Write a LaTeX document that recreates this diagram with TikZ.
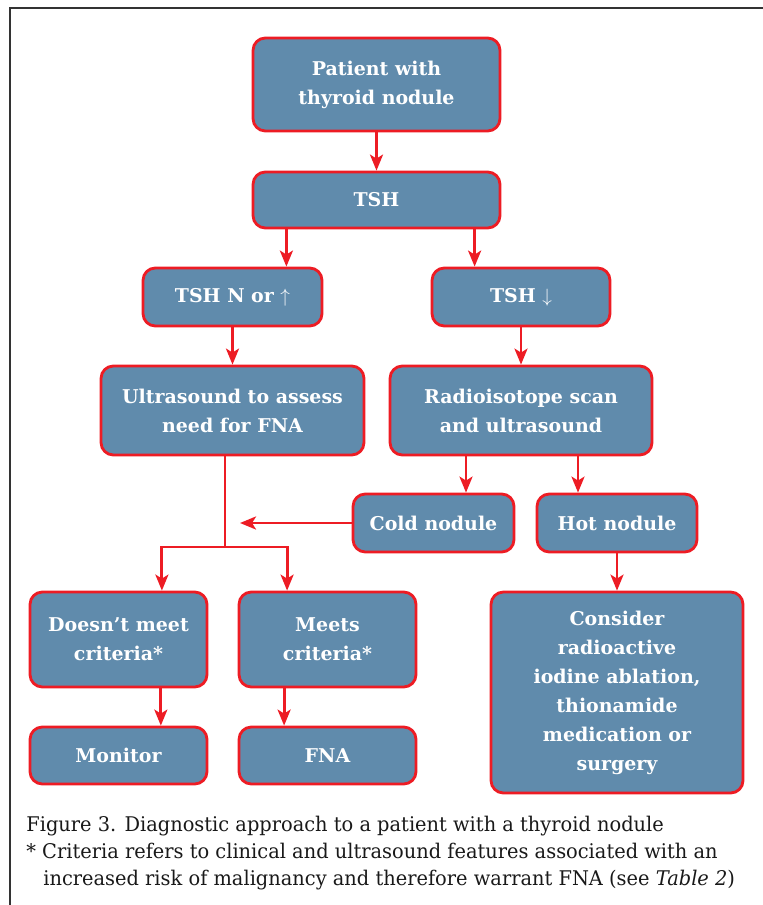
\documentclass[tikz,border=0pt]{standalone}
\usepackage{fontspec}
\setmainfont{DejaVu Serif}
\newfontfamily\capfont[FakeStretch=0.96]{DejaVu Serif}
\usetikzlibrary{arrows.meta,positioning}
\definecolor{boxblue}{HTML}{608BAC}
\definecolor{boxred}{HTML}{ED1C24}
\definecolor{framegray}{HTML}{333333}
\tikzset{
  flowbox/.style={rectangle, rounded corners=7pt, draw=boxred, line width=1.6pt, fill=boxblue,
                  text=white, align=center, font=\bfseries\fontsize{10.8}{16.5}\selectfont,
                  inner sep=2pt},
  arr/.style={-{Stealth[length=3.2mm,width=2.6mm,inset=0.8mm]}, line width=1.6pt, draw=boxred},
  line/.style={line width=1.6pt, draw=boxred},
  captxt/.style={anchor=base west, inner sep=0pt, text=black!90,
                 font=\capfont\fontsize{11.5}{15}\selectfont},
}
\begin{document}
\begin{tikzpicture}[x=0.02cm, y=-0.02cm]
    \useasboundingbox (0,0) rectangle (763,905);
    % frame
    \draw[framegray, line width=1.1pt] (763,8) -- (10,8) -- (10,905);
    % boxes
    \node[flowbox, minimum width=4.94cm, minimum height=1.86cm] (pat) at (376.5,84.5)
      {Patient with\\thyroid nodule};
    \node[flowbox, minimum width=4.94cm, minimum height=1.12cm] (tsh) at (376.5,200) {TSH};
    \node[flowbox, minimum width=3.58cm, minimum height=1.16cm] (tshn) at (232.5,297)
      {TSH N or $\uparrow$};
    \node[flowbox, minimum width=3.56cm, minimum height=1.16cm] (tshd) at (521,297)
      {TSH $\downarrow$};
    \node[flowbox, minimum width=5.26cm, minimum height=1.78cm] (us) at (232.5,410.5)
      {Ultrasound to assess\\need for FNA};
    \node[flowbox, minimum width=5.24cm, minimum height=1.78cm] (scan) at (521,410.5)
      {Radioisotope scan\\and ultrasound};
    \node[flowbox, minimum width=3.22cm, minimum height=1.16cm] (cold) at (433.5,523) {Cold nodule};
    \node[flowbox, minimum width=3.2cm, minimum height=1.16cm] (hot) at (617,523) {Hot nodule};
    \node[flowbox, minimum width=3.54cm, minimum height=1.9cm] (nomeet) at (118.5,639.5)
      {Doesn't meet\\criteria*};
    \node[flowbox, minimum width=3.54cm, minimum height=1.9cm] (meet) at (327.5,639.5)
      {Meets\\criteria*};
    \node[flowbox, minimum width=3.54cm, minimum height=1.14cm] (mon) at (118.5,755.5) {Monitor};
    \node[flowbox, minimum width=3.54cm, minimum height=1.14cm] (fna) at (327.5,755.5) {FNA};
    \node[flowbox, minimum width=5.04cm, minimum height=4.02cm] (cons) at (617,692.5)
      {Consider\\radioactive\\iodine ablation,\\thionamide\\medication or\\surgery};
    % junctions
    \coordinate (split) at (225,547);
    \coordinate (merge) at (240,523);
    % arrows
    \draw[arr] (pat) -- (tsh);
    \draw[arr] (tsh.south -| tshn.north east) ++(-37,0) coordinate (t1) -- (t1 |- tshn.north);
    \draw[arr] (tsh.south -| tshd.north west) ++(44,0) coordinate (t2) -- (t2 |- tshd.north);
    \draw[arr] (tshn) -- (us);
    \draw[arr] (tshd) -- (scan);
    \draw[arr] (scan.south -| cold.north) ++(32.5,0) coordinate (s1) -- (s1 |- cold.north);
    \draw[arr] (scan.south -| hot.north) ++(-39,0) coordinate (s2) -- (s2 |- hot.north);
    \draw[arr] (hot) -- (cons);
    \draw[arr] (cold) -- (merge);
    \draw[line] (us.south -| split) -- (split);
    \draw[arr] (split) -| ([xshift=24.7pt]nomeet.north);
    \draw[arr] (split) -| ([xshift=-23pt]meet.north);
    \draw[arr] ([xshift=24.1pt]nomeet.south) -- ([xshift=24.1pt]mon.north);
    \draw[arr] ([xshift=-24.7pt]meet.south) -- ([xshift=-24.7pt]fna.north);
    % caption
    \node[captxt] (cap1) at (26,831)
      {Figure 3. Diagnostic approach to a patient with a thyroid nodule};
    \node[captxt] (cap2) at (26,858)
      {* Criteria refers to clinical and ultrasound features associated with an};
    \node[captxt] (cap3) at (43,885)
      {increased risk of malignancy and therefore warrant FNA (see \textit{Table 2})};
\end{tikzpicture}
\end{document}
